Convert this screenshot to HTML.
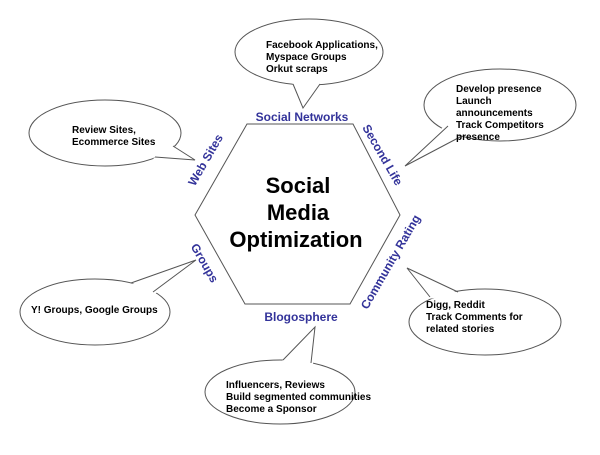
<!DOCTYPE html>
<html><head><meta charset="utf-8"><style>
html,body{margin:0;padding:0;background:#fff;}
svg text{font-family:"Liberation Sans",Arial,sans-serif;}
.b{fill:#33339a;font-weight:bold;font-size:12px;}
.t{fill:#000;font-size:10px;font-weight:bold;}
.c{fill:#000;font-size:22px;font-weight:bold;}
</style></head><body>
<svg width="600" height="450" viewBox="0 0 600 450" xmlns="http://www.w3.org/2000/svg">
<g fill="#fff" stroke="#555" stroke-width="1">
<polygon points="247,124 353,124 400,215 350,304 245,304 195,215"/>
<ellipse cx="309" cy="52" rx="74" ry="33"/>
<ellipse cx="105" cy="133" rx="76" ry="33"/>
<ellipse cx="500" cy="105" rx="76" ry="36"/>
<ellipse cx="485" cy="322" rx="76" ry="33"/>
<ellipse cx="95" cy="312" rx="75" ry="33"/>
<ellipse cx="280" cy="392" rx="75" ry="32"/>
</g>
<g fill="#fff" stroke="none">
<polygon points="292,82 303,108 321,82"/>
<polygon points="171,144 195,160 153,159"/>
<polygon points="446,124 405,166 462,139"/>
<polygon points="428,299 407,268 460,294"/>
<polygon points="129,285 196,260 155,294"/>
<polygon points="281,362 315,327 313,365"/>
</g>
<g fill="none" stroke="#555" stroke-width="1">
<polyline points="293,84 303,108 320,84"/>
<polyline points="173,146 195,160 155,157"/>
<polyline points="448,126 405,166 460,137"/>
<polyline points="430,297 407,268 458,292"/>
<polyline points="131,283 196,260 153,292"/>
<polyline points="283,360 315,327 311,363"/>
</g>
<text class="c" x="298" y="193" text-anchor="middle">Social</text>
<text class="c" x="298" y="220" text-anchor="middle">Media</text>
<text class="c" x="296" y="247" text-anchor="middle">Optimization</text>
<text class="b" x="302" y="121" text-anchor="middle">Social Networks</text>
<text class="b" x="301" y="321" text-anchor="middle">Blogosphere</text>
<text class="b" transform="translate(209,162) rotate(-60)" text-anchor="middle">Web Sites</text>
<text class="b" transform="translate(379,157) rotate(60)" text-anchor="middle">Second Life</text>
<text class="b" transform="translate(201,265) rotate(60)" text-anchor="middle">Groups</text>
<text class="b" transform="translate(394,264) rotate(-60)" text-anchor="middle">Community Rating</text>
<text class="t" x="266" y="48">Facebook Applications,</text>
<text class="t" x="266" y="60">Myspace Groups</text>
<text class="t" x="266" y="72">Orkut scraps</text>
<text class="t" x="72" y="133">Review Sites,</text>
<text class="t" x="72" y="145">Ecommerce Sites</text>
<text class="t" x="456" y="92">Develop presence</text>
<text class="t" x="456" y="104">Launch</text>
<text class="t" x="456" y="116">announcements</text>
<text class="t" x="456" y="128">Track Competitors</text>
<text class="t" x="456" y="140">presence</text>
<text class="t" x="426" y="308">Digg, Reddit</text>
<text class="t" x="426" y="320">Track Comments for</text>
<text class="t" x="426" y="332">related stories</text>
<text class="t" x="31" y="313">Y! Groups, Google Groups</text>
<text class="t" x="226" y="388">Influencers, Reviews</text>
<text class="t" x="226" y="400">Build segmented communities</text>
<text class="t" x="226" y="412">Become a Sponsor</text>
</svg>
</body></html>
